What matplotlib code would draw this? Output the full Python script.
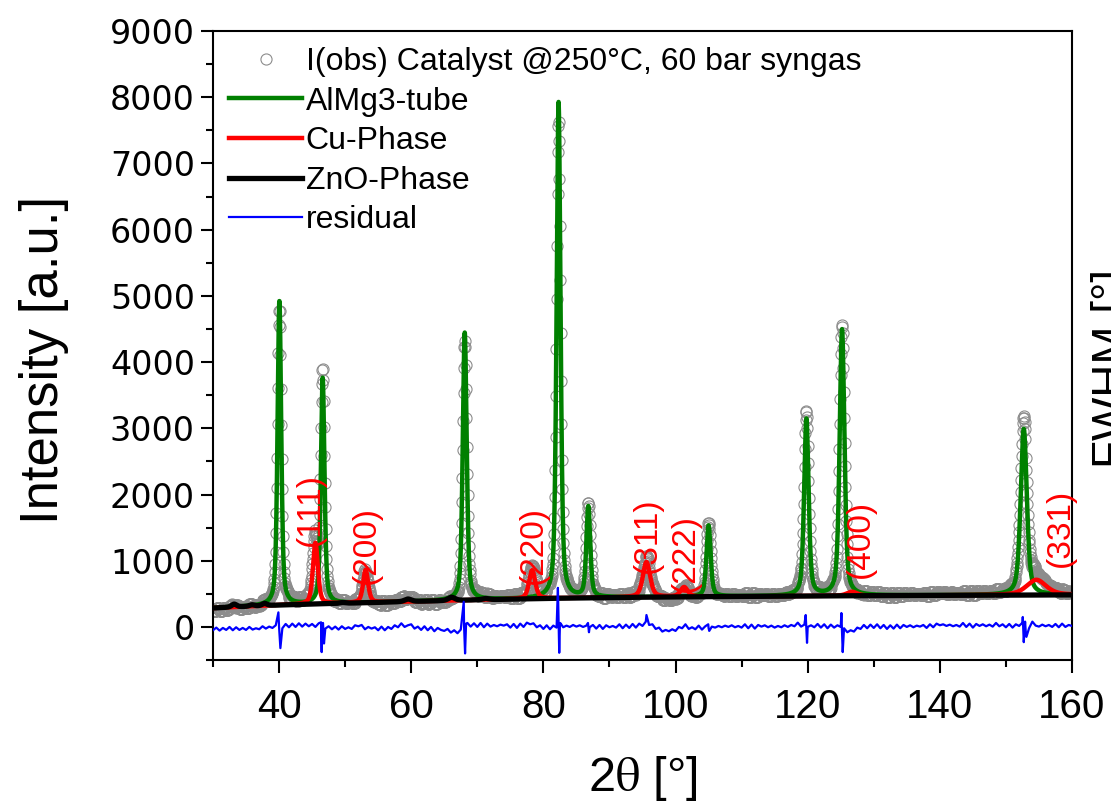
import numpy as np
import matplotlib
matplotlib.use("Agg")
import matplotlib.pyplot as plt
from matplotlib.ticker import MultipleLocator
from matplotlib.lines import Line2D

# ============================================================
# DATA
# ============================================================

# background (black line without ZnO bumps), 2theta knots / intensity
bg_pos = [30, 40, 50, 60, 70, 80, 90, 100, 110, 120, 130, 140, 150, 160]
bg_val = [285, 330, 358, 383, 408, 430, 444, 454, 461, 467, 473, 477, 481, 484]

# ZnO-Phase bumps on the black line
zno_pos = [33.2, 35.9, 37.8, 49.6, 59.5, 66.1, 71.3]
zno_height = [45, 22, 35, 12, 40, 50, 18]
zno_fwhm = [0.9, 0.9, 0.9, 1.0, 1.2, 1.2, 1.2]

# AlMg3-tube reflections (height above background)
al_pos = [40.05, 46.6, 68.1, 82.3, 86.8, 105.0, 119.8, 125.2, 152.7]
al_height = [4590, 3410, 4040, 7490, 1365, 1075, 2670, 4020, 2510]
al_obs_height = [4470, 3480, 3900, 7210, 1395, 1120, 2750, 4070, 2530]
al_fwhm = [0.65, 0.65, 0.7, 0.7, 0.7, 0.75, 0.8, 0.85, 1.1]

# Cu-Phase reflections
cu_hkl = ["(111)", "(200)", "(220)", "(311)", "(222)", "(400)", "(331)"]
cu_pos = [45.5, 53.1, 78.3, 95.6, 101.3, 126.7, 154.6]
cu_height = [925, 495, 430, 530, 145, 60, 230]
cu_fwhm = [0.9, 0.9, 1.1, 1.3, 1.3, 1.8, 3.5]
cu_label_x = [44.8, 53.2, 78.5, 95.8, 101.5, 128.0, 158.3]
cu_label_y = [1770, 1240, 1240, 1390, 1120, 1330, 1500]

# residual, 0.5 deg steps from 30 to 160
residual = [
    -50, -10, -55, -15, -45, 0, -50, -5, -45, -15,
    -45, 0, -40, -20, -35, 10, -25, 5, -15, 25,
    0, -20, 45, -5, 50, 0, 55, 5, 50, 10,
    45, 0, 55, 5, -25, 10, -35, 5, -40, 10,
    -30, -5, -30, 25, 10, 30, -35, 0, -25, -5,
    -50, 5, -50, 0, -30, 25, -5, 55, 0, 25,
    40, -25, 5, -45, 10, -50, 0, -65, -15, -45,
    -60, -30, -85, -50, -95, -40, 10, 60, 5, 55,
    0, 60, -5, 50, 5, 30, 10, 35, 20, 40,
    -10, 45, -15, 50, 0, 65, 40, 55, -5, 25,
    -30, 25, -35, 20, -10, 15, -5, 20, 0, 30,
    5, 25, 0, 20, -5, 30, -25, 30, -30, 25,
    -5, 15, -10, 40, -20, 35, -15, 45, -10, 50,
    15, 80, 30, 40, -30, -10, -70, -45, -65, -35,
    -60, 0, -20, 40, -30, -5, -35, 20, -40, 10,
    -15, 5, -10, 15, -5, 20, 0, 25, -5, 15,
    -10, 40, -20, 35, -25, 30, 5, 25, -5, 20,
    -10, 15, -5, 25, 0, 30, 10, 65, 5, 35,
    0, 25, -5, 45, -10, 40, -20, 35, -10, 25,
    0, -20, -80, -50, -70, -10, -30, 30, -20, 35,
    -15, 40, -20, 30, -30, 25, -25, 35, -20, 30,
    0, 25, -5, 20, 5, 30, -15, 40, -5, 50,
    25, 40, 15, 35, 10, 30, 5, 60, 0, 50,
    -10, 45, 15, 40, 10, 35, 5, 60, 10, 40,
    -5, 45, -10, 40, 15, 65, -70, -20, 80, 20,
    5, 35, 10, 30, 0, 45, -5, 50, 0, 30,
    15,
]

# sharp misfit spikes in the residual at the tube reflections
spike_pos = [39.9, 40.2, 46.35, 46.45, 46.65, 46.8, 67.95, 68.15, 68.3,
             82.2, 82.4, 82.55, 86.75, 86.9, 95.6, 104.95, 105.1,
             119.7, 119.9, 125.1, 125.3, 152.55, 152.7, 152.9, 153.1]
spike_val = [220, -320, 70, -380, 60, -250, 380, -400, 50,
             590, -390, 60, 60, -80, 180, 40, -60,
             180, -240, 210, -380, 150, -230, 80, -150]

# ============================================================
# PROFILES
# ============================================================

step = 0.02
two_theta = np.arange(30, 160 + step / 2, step)


def pseudo_voigt(x, x0, h, w, eta=0.5):
    d = (x - x0) / w
    return h * (eta / (1 + 4 * d ** 2) + (1 - eta) * np.exp(-4 * np.log(2) * d ** 2))


def phase(x, pos, height, fwhm):
    out = np.zeros_like(x)
    for p, h, w in zip(pos, height, fwhm):
        out += pseudo_voigt(x, p, h, w)
    return out


bg = np.interp(two_theta, bg_pos, bg_val)
zno_curve = bg + phase(two_theta, zno_pos, zno_height, zno_fwhm)
al_curve = bg + phase(two_theta, al_pos, al_height, al_fwhm)
cu_curve = bg + phase(two_theta, cu_pos, cu_height, cu_fwhm)

per_step = int(round(0.5 / step))
noise = np.clip(np.repeat(residual, per_step)[:len(two_theta)], -80, 80)
obs = (zno_curve + phase(two_theta, al_pos, al_obs_height, al_fwhm)
       + phase(two_theta, cu_pos, cu_height, cu_fwhm) + noise)

res_x = np.concatenate([30 + 0.5 * np.arange(len(residual)), spike_pos])
res_y = np.concatenate([residual, spike_val])
order = np.argsort(res_x)
res_x, res_y = res_x[order], res_y[order]

# ============================================================
# PLOT
# ============================================================

plt.rcParams["font.family"] = ["Liberation Sans", "DejaVu Sans"]
plt.rcParams["mathtext.fontset"] = "stix"

fig = plt.figure(figsize=(11.11, 8.02), dpi=100)
ax = fig.add_axes([0.1917, 0.177, 0.7732, 0.7843])

ax.plot(two_theta[::3], obs[::3], ls="none", marker="o", ms=8, mfc="none",
        mec="#8c8c8c", mew=0.8, zorder=1)
ax.plot(two_theta, al_curve, color="#008000", lw=3.2, zorder=2)
ax.plot(two_theta, cu_curve, color="#ff0000", lw=3.2, zorder=4)
ax.plot(two_theta, zno_curve, color="black", lw=3.8, zorder=5)
ax.plot(res_x, res_y, color="#0000ff", lw=1.6, zorder=6)

for lab, lx, ly in zip(cu_hkl, cu_label_x, cu_label_y):
    ax.text(lx, ly, lab, color="red", fontsize=24, rotation=90,
            ha="center", va="center")

ax.set_xlim(30, 160)
ax.set_ylim(-500, 9000)
ax.xaxis.set_major_locator(MultipleLocator(20))
ax.xaxis.set_minor_locator(MultipleLocator(10))
ax.yaxis.set_major_locator(MultipleLocator(1000))
ax.yaxis.set_minor_locator(MultipleLocator(500))

ax.tick_params(which="both", direction="out", width=1.5, top=False, right=False)
ax.tick_params(which="major", length=9)
ax.tick_params(which="minor", length=5)
ax.tick_params(axis="x", labelsize=29, pad=11)
ax.tick_params(axis="y", labelsize=24, pad=4)
for lbl in ax.get_yticklabels():
    lbl.set_family("DejaVu Sans")
for sp in ax.spines.values():
    sp.set_linewidth(1.5)

ax.set_xlabel("2$\\mathrm{\\theta}$ [°]", fontsize=35, labelpad=20)
ax.set_ylabel("Intensity [a.u.]", fontsize=38)
ax.yaxis.set_label_coords(-0.168, 0.477)

fig.text(0.982, 0.541, "FWHM [°]", fontsize=33, rotation=90,
         ha="left", va="center")

handles = [
    Line2D([], [], ls="none", marker="o", ms=8, mfc="none", mec="#8c8c8c", mew=0.8),
    Line2D([], [], color="#008000", lw=3.2),
    Line2D([], [], color="#ff0000", lw=3.2),
    Line2D([], [], color="black", lw=3.8),
    Line2D([], [], color="#0000ff", lw=1.6),
]
labels = ["I(obs) Catalyst @250°C, 60 bar syngas", "AlMg3-tube",
          "Cu-Phase", "ZnO-Phase", "residual"]
ax.legend(handles, labels, loc="upper left", frameon=False, fontsize=23,
          handlelength=2.3, handletextpad=0.1, labelspacing=0.3,
          borderaxespad=0.3, borderpad=0.2)

fig.savefig("out.png", dpi=100)
